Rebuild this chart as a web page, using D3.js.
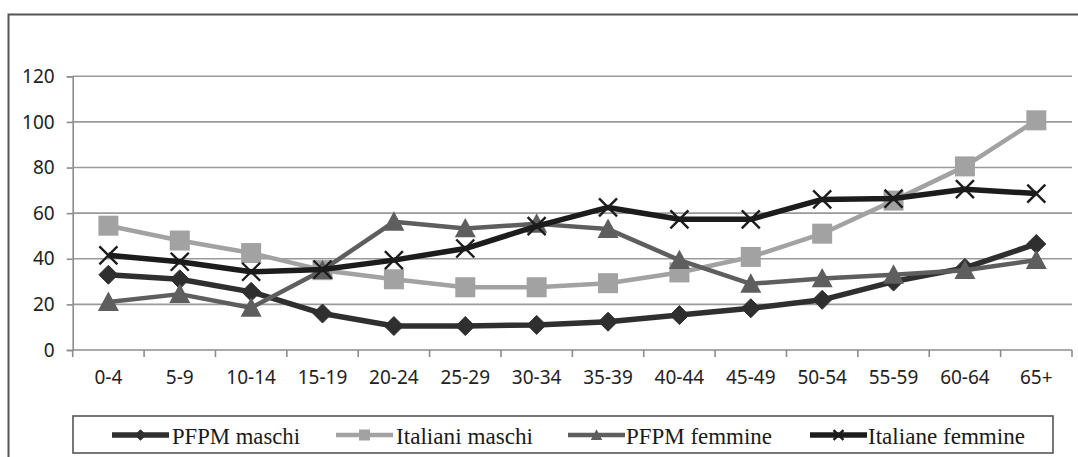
<!DOCTYPE html>
<html>
<head>
<meta charset="utf-8">
<script src="https://cdn.jsdelivr.net/npm/d3@7"></script>
<style>
  html, body { margin: 0; padding: 0; background: #fff; }
  svg { display: block; }
</style>
</head>
<body>
<svg id="chart" width="1078" height="457"></svg>
<script>
// Age classes and rates per series
const categories = ["0-4","5-9","10-14","15-19","20-24","25-29","30-34","35-39","40-44","45-49","50-54","55-59","60-64","65+"];
const pfpmMaschi      = [33, 31, 25.5, 16, 10.5, 10.5, 11, 12.4, 15.3, 18.3, 22, 30, 36, 46.5];
const italianiMaschi  = [54.5, 48, 42.5, 35, 31, 27.5, 27.5, 29.3, 34, 40.8, 51, 65.5, 80.5, 100.7];
const pfpmFemmine     = [21, 24.5, 18.5, 35, 56.2, 53.3, 55.3, 53, 39.4, 29, 31.4, 33, 35, 39.4];
const italianeFemmine = [41.5, 38.7, 34.3, 35.3, 39.4, 44.5, 54.3, 62.5, 57.3, 57.3, 66, 66.4, 70.5, 68.6];
const yTicks = [0, 20, 40, 60, 80, 100, 120];
const seriesNames = ["PFPM maschi", "Italiani maschi", "PFPM femmine", "Italiane femmine"];

const series = [
  { name: seriesNames[0], values: pfpmMaschi,      color: "#2f2f2f", width: 5.5, marker: "diamond" },
  { name: seriesNames[1], values: italianiMaschi,  color: "#a2a2a2", width: 4.5, marker: "square" },
  { name: seriesNames[2], values: pfpmFemmine,     color: "#5e5e5e", width: 4.5, marker: "triangle" },
  { name: seriesNames[3], values: italianeFemmine, color: "#1c1c1c", width: 5.5, marker: "cross" }
];

const svg = d3.select("#chart");

// outer frame
svg.append("rect")
  .attr("x", 8.5).attr("y", 14.5)
  .attr("width", 1100).attr("height", 480)
  .attr("fill", "#fff").attr("stroke", "#555").attr("stroke-width", 2);

const plot = { left: 72.7, right: 1072, top: 76.3, bottom: 350 };

const x = d3.scaleBand().domain(categories).range([plot.left, plot.right]).padding(0);
const y = d3.scaleLinear().domain([0, 120]).range([plot.bottom, plot.top]);

// horizontal gridlines
svg.append("g").selectAll("line").data(yTicks.filter(d => d > 0)).join("line")
  .attr("x1", plot.left).attr("x2", plot.right)
  .attr("y1", d => y(d)).attr("y2", d => y(d))
  .attr("stroke", "#9a9a9a").attr("stroke-width", 1.6);

// y axis
const yAxis = svg.append("g")
  .attr("transform", `translate(${plot.left},0)`)
  .call(d3.axisLeft(y).tickValues(yTicks).tickSize(6).tickPadding(12).tickFormat(d3.format("d")));
yAxis.select(".domain").attr("stroke", "#8c8c8c").attr("stroke-width", 1.6);
yAxis.selectAll(".tick line").attr("stroke", "#8c8c8c").attr("stroke-width", 1.6);
yAxis.selectAll("text")
  .attr("font-family", "'Noto Sans', sans-serif").attr("font-size", 19)
  .attr("fill", "#222");

// x axis with ticks on category boundaries
const xAxisG = svg.append("g").attr("transform", `translate(0,${plot.bottom})`);
xAxisG.append("line")
  .attr("x1", plot.left).attr("x2", plot.right)
  .attr("stroke", "#8c8c8c").attr("stroke-width", 1.6);
const bounds = categories.map(c => x(c)).concat([plot.right]);
xAxisG.selectAll("line.tk").data(bounds).join("line").attr("class", "tk")
  .attr("x1", d => d).attr("x2", d => d).attr("y1", 0).attr("y2", 7)
  .attr("stroke", "#8c8c8c").attr("stroke-width", 1.6);
xAxisG.selectAll("text").data(categories).join("text")
  .attr("x", d => x(d) + x.bandwidth() / 2)
  .attr("y", 34)
  .attr("text-anchor", "middle")
  .attr("font-family", "'Noto Sans', sans-serif").attr("font-size", 19)
  .attr("fill", "#222")
  .text(d => d);

const cx = i => x(categories[i]) + x.bandwidth() / 2;

function drawMarker(g, type, px, py, color, scale) {
  const s = scale || 1;
  if (type === "diamond") {
    const r = 9.5 * s;
    g.append("path")
      .attr("d", `M${px},${py - r}L${px + r},${py}L${px},${py + r}L${px - r},${py}Z`)
      .attr("fill", color).attr("stroke", color).attr("stroke-width", 1);
  } else if (type === "square") {
    const r = 10 * s;
    g.append("rect")
      .attr("x", px - r).attr("y", py - r).attr("width", 2 * r).attr("height", 2 * r)
      .attr("fill", color);
  } else if (type === "triangle") {
    const r = 10.5 * s;
    g.append("path")
      .attr("d", `M${px},${py - r}L${px + r},${py + r * 0.85}L${px - r},${py + r * 0.85}Z`)
      .attr("fill", color);
  } else if (type === "cross") {
    const r = 9 * s;
    g.append("path")
      .attr("d", `M${px - r},${py - r}L${px + r},${py + r}M${px + r},${py - r}L${px - r},${py + r}`)
      .attr("stroke", color).attr("stroke-width", 2.4).attr("fill", "none");
  }
}

const line = d3.line().x((d, i) => cx(i)).y(d => y(d));

series.forEach(s => {
  const g = svg.append("g");
  g.append("path").datum(s.values)
    .attr("d", line)
    .attr("fill", "none").attr("stroke", s.color).attr("stroke-width", s.width)
    .attr("stroke-linejoin", "round");
  s.values.forEach((v, i) => drawMarker(g, s.marker, cx(i), y(v), s.color, 1));
});

// legend
const legend = svg.append("g");
legend.append("rect")
  .attr("x", 73).attr("y", 416).attr("width", 980).attr("height", 37)
  .attr("fill", "#fff").attr("stroke", "#555").attr("stroke-width", 1.6);

const legendItems = [
  { lx: 112, tx: 172, tw: 128 },
  { lx: 336, tx: 396, tw: 137 },
  { lx: 568, tx: 626, tw: 146 },
  { lx: 810, tx: 868, tw: 157 }
];
series.forEach((s, i) => {
  const it = legendItems[i];
  const ly = 435;
  legend.append("line")
    .attr("x1", it.lx).attr("x2", it.lx + 57).attr("y1", ly).attr("y2", ly)
    .attr("stroke", s.color).attr("stroke-width", s.width);
  drawMarker(legend, s.marker, it.lx + 28.5, ly, s.color, 0.55);
  legend.append("text")
    .attr("x", it.tx).attr("y", 444)
    .attr("font-family", "'Liberation Serif', serif").attr("font-size", 24)
    .attr("fill", "#1a1a1a")
    .attr("textLength", it.tw).attr("lengthAdjust", "spacingAndGlyphs")
    .text(s.name);
});
</script>
</body>
</html>
